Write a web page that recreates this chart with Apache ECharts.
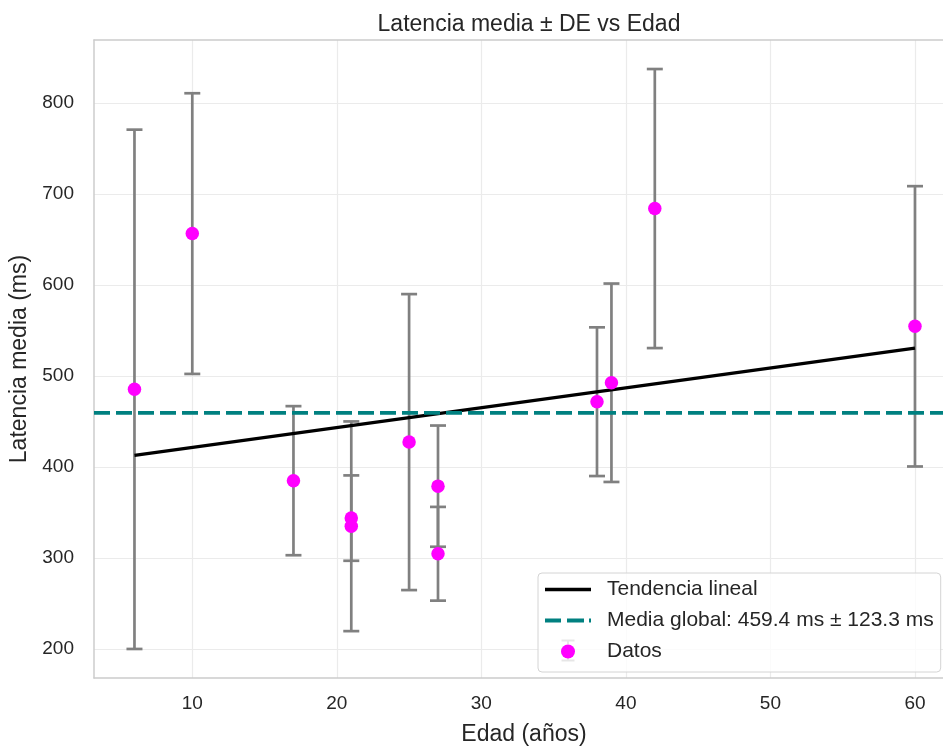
<!DOCTYPE html>
<html>
<head>
<meta charset="utf-8">
<script src="https://cdn.jsdelivr.net/npm/echarts@6/dist/echarts.min.js"></script>
<style>html,body{margin:0;padding:0;background:#fff}#c{width:943px;height:747px}</style>
</head>
<body>
<div id="c"></div>
<script>
// ---- data ----
const ages = [6, 10, 17, 21, 21, 25, 27, 27, 38, 39, 42, 60];
const meanLatency = [485.4, 656.5, 385.0, 334.9, 343.9, 427.4, 379.0, 304.7, 471.8, 492.6, 684.0, 554.6];
const sdLatency = [285.3, 154.2, 81.9, 115.2, 46.9, 162.6, 66.6, 51.5, 81.7, 109.0, 153.3, 154.0];
const trendX = [6, 60];
const trendY = [412.7, 530.7];
const globalMean = 459.4;
const globalSd = 123.3;
const xTicks = [10, 20, 30, 40, 50, 60];
const yTicks = [200, 300, 400, 500, 600, 700, 800];
const xRange = [3.2, 62.7];
const yRange = [168.2, 869.2];

const FONT = '"Liberation Sans", Arial, sans-serif';
const TXT = '#262626';
const FRAME = '#cccccc';
const meanName = 'Media global: ' + globalMean.toFixed(1) + ' ms ± ' + globalSd.toFixed(1) + ' ms';

const errData = ages.map((a, i) => [a, meanLatency[i], sdLatency[i]]);
const ptData = ages.map((a, i) => [a, meanLatency[i]]);
const trendData = trendX.map((x, i) => [x, trendY[i]]);
const meanData = [[xRange[0], globalMean], [xRange[1], globalMean]];

const chart = echarts.init(document.getElementById('c'), null, {renderer: 'canvas'});
chart.setOption({
  backgroundColor: '#ffffff',
  animation: false,
  textStyle: {fontFamily: FONT},
  title: {
    text: 'Latencia media ± DE vs Edad',
    left: 524, top: 8, textAlign: 'center',
    textStyle: {fontFamily: FONT, fontSize: 23, fontWeight: 'normal', color: TXT}
  },
  grid: {
    left: 94, right: -11, top: 40, bottom: 69,
    show: false, containLabel: false, outerBoundsMode: 'none'
  },
  xAxis: [{
    type: 'value', min: xRange[0], max: xRange[1], position: 'bottom',
    name: 'Edad (años)', nameLocation: 'middle', nameGap: 45,
    nameTextStyle: {fontFamily: FONT, fontSize: 23, color: TXT},
    axisLine: {show: true, onZero: false, lineStyle: {color: FRAME, width: 1.5}},
    axisTick: {show: false, customValues: xTicks},
    axisLabel: {customValues: xTicks, margin: 16, fontSize: 19, color: TXT, fontFamily: FONT},
    splitLine: {show: true, lineStyle: {color: '#ebebeb', width: 1.2}}
  }, {
    type: 'value', min: xRange[0], max: xRange[1], position: 'top',
    axisLine: {show: true, onZero: false, lineStyle: {color: FRAME, width: 1.5}},
    axisTick: {show: false}, axisLabel: {show: false}, splitLine: {show: false}
  }],
  yAxis: {
    type: 'value', min: yRange[0], max: yRange[1],
    name: 'Latencia media (ms)', nameLocation: 'middle', nameGap: 61, nameRotate: 90,
    nameTextStyle: {fontFamily: FONT, fontSize: 23, color: TXT},
    axisLine: {show: true, onZero: false, lineStyle: {color: FRAME, width: 1.5}},
    axisTick: {show: false, customValues: yTicks},
    axisLabel: {customValues: yTicks, margin: 20, fontSize: 19, color: TXT, fontFamily: FONT},
    splitLine: {show: true, lineStyle: {color: '#ebebeb', width: 1.2}}
  },
  legend: {
    orient: 'vertical', left: 538, top: 573,
    padding: [6, 7, 10, 7],
    itemWidth: 46, itemHeight: 14, itemGap: 10,
    backgroundColor: 'rgba(255,255,255,0.8)', borderColor: '#d4d4d4', borderWidth: 1, borderRadius: 4,
    textStyle: {fontFamily: FONT, fontSize: 21, color: TXT, lineHeight: 20, padding: [0, 0, 0, 11]},
    data: [
      {name: 'Tendencia lineal', icon: 'path://M0,0h46v3.3h-46z'},
      {name: meanName, icon: 'path://M0,0h16v3.8h-16zM22,0h17v3.8h-17zM44,0h2v3.8h-2z'},
      {name: 'Datos', icon: 'circle'}
    ]
  },
  graphic: [{
    type: 'group', z: 100, children: [
      {type: 'line', shape: {x1: 561.5, y1: 640.5, x2: 574.5, y2: 640.5}, style: {stroke: '#808080', lineWidth: 2}},
      {type: 'line', shape: {x1: 561.5, y1: 660.5, x2: 574.5, y2: 660.5}, style: {stroke: '#808080', lineWidth: 2}},
      {type: 'line', shape: {x1: 568, y1: 640.5, x2: 568, y2: 644}, style: {stroke: '#808080', lineWidth: 2}},
      {type: 'line', shape: {x1: 568, y1: 657, x2: 568, y2: 660.5}, style: {stroke: '#808080', lineWidth: 2}}
    ]
  }],
  series: [
    {
      type: 'custom', name: 'errores', z: 1, silent: true,
      data: errData,
      encode: {x: 0, y: 1},
      renderItem: function (params, api) {
        const x = api.value(0), m = api.value(1), s = api.value(2);
        const top = api.coord([x, m + s]);
        const bot = api.coord([x, m - s]);
        const hw = 8;
        const st = {stroke: '#808080', lineWidth: 2.7};
        return {type: 'group', children: [
          {type: 'line', shape: {x1: top[0], y1: top[1], x2: bot[0], y2: bot[1]}, style: st},
          {type: 'line', shape: {x1: top[0] - hw, y1: top[1], x2: top[0] + hw, y2: top[1]}, style: st},
          {type: 'line', shape: {x1: bot[0] - hw, y1: bot[1], x2: bot[0] + hw, y2: bot[1]}, style: st}
        ]};
      }
    },
    {
      type: 'line', name: 'Tendencia lineal', z: 3, data: trendData,
      symbol: 'none', lineStyle: {color: '#000000', width: 3.3}, itemStyle: {color: '#000000'}
    },
    {
      type: 'line', name: meanName, z: 3, data: meanData,
      symbol: 'none', lineStyle: {color: '#008080', width: 3.8, type: [16, 6]}, itemStyle: {color: '#008080'}
    },
    {
      type: 'scatter', name: 'Datos', z: 4, data: ptData,
      symbol: 'circle', symbolSize: 13.5, itemStyle: {color: '#ff00ff', opacity: 1}
    }
  ]
});
</script>
</body>
</html>
